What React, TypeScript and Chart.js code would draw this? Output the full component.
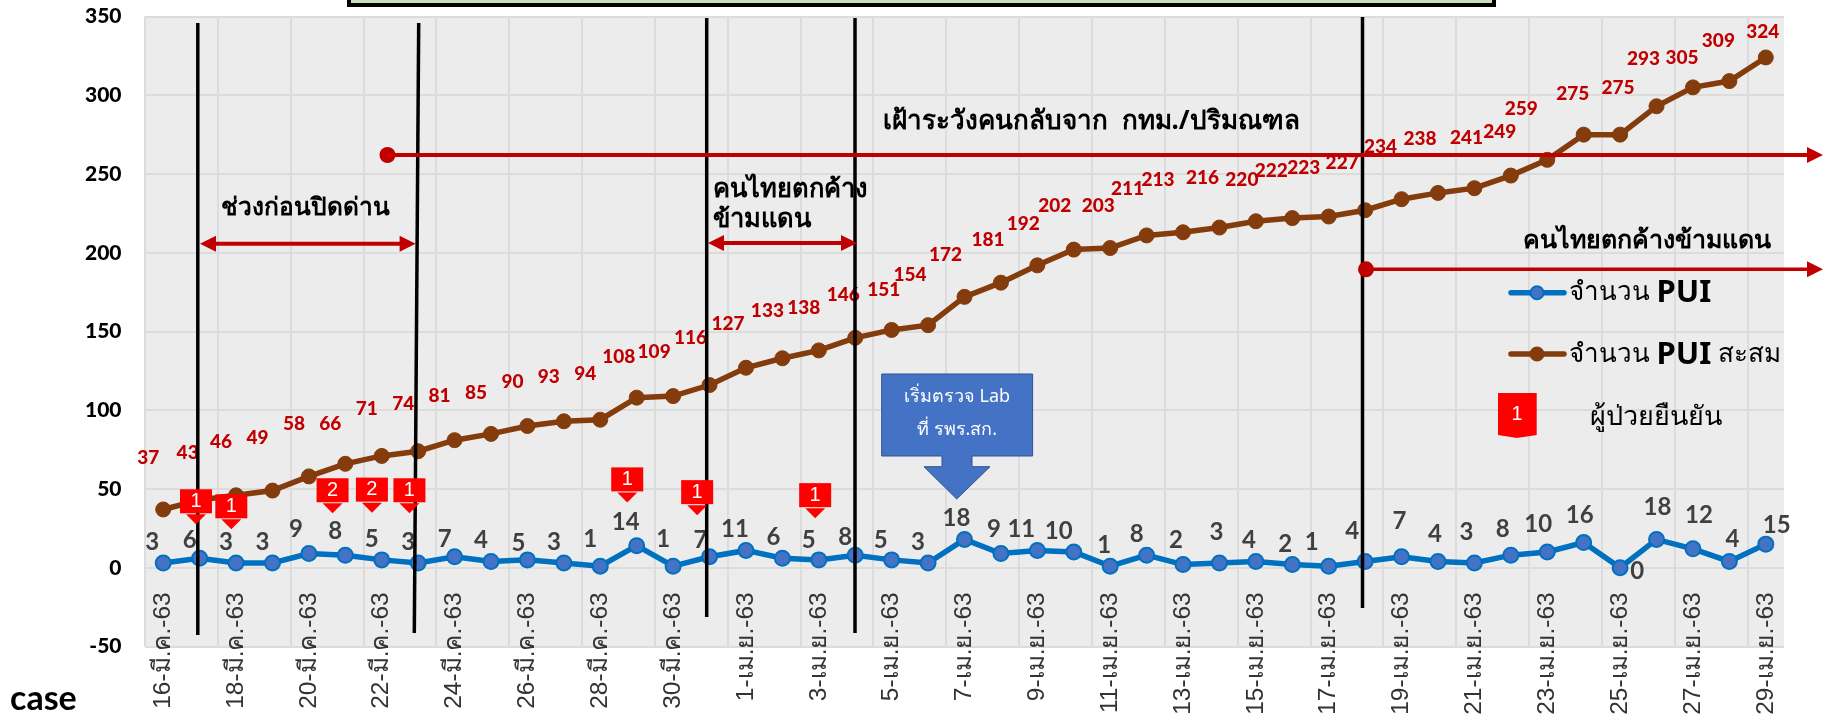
import React, { useEffect, useRef } from "react";
import { Chart, registerables } from "chart.js";

Chart.register(...registerables);

const monthMar = "มี.ค.";
const monthApr = "เม.ย.";
const marDays = [16,17,18,19,20,21,22,23,24,25,26,27,28,29,30,31];
const aprDays = [1,2,3,4,5,6,7,8,9,10,11,12,13,14,15,16,17,18,19,20,21,22,23,24,25,26,27,28,29];
const categories = [
  ...marDays.map((d) => `${d}-${monthMar}-63`),
  ...aprDays.map((d) => `${d}-${monthApr}-63`),
];
const puiDaily = [3,6,3,3,9,8,5,3,7,4,5,3,1,14,1,7,11,6,5,8,5,3,18,9,11,10,1,8,2,3,4,2,1,4,7,4,3,8,10,16,0,18,12,4,15];
const puiTotal = [37,43,46,49,58,66,71,74,81,85,90,93,94,108,109,116,127,133,138,146,151,154,172,181,192,202,203,211,213,216,220,222,223,227,234,238,241,249,259,275,275,293,305,309,324];

// hand-placed label offsets from each point (the original labels were moved by hand)
const totalLabelDx = [-15,-12,-15,-15,-15,-15,-15,-15,-15,-15,-15,-15,-15,-18,-19,-19,-18,-15,-15,-12,-8,-18,-19,-13,-14,-19,-12,-19,-25,-17,-14,-21,-25,-23,-21,-18,-8,-11,-26,-11,-2,-13,-11,-11,-3];
const totalLabelDy = [-52,-47,-53,-53,-53,-40,-47,-47,-44,-41,-44,-44,-46,-41,-44,-47,-44,-47,-43,-43,-40,-50,-42,-43,-41,-44,-42,-47,-52,-50,-41,-47,-49,-47,-52,-54,-50,-44,-51,-41,-47,-47,-30,-40,-26];
const dailyLabelDx = [-11,-10,-10,-10,-13,-10,-10,-10,-10,-10,-9,-10,-10,-11,-10,-9,-11,-9,-10,-10,-11,-10,-8,-7,-16,-15,-6,-10,-7,-3,-7,-7,-17,-13,-2,-3,-8,-8,-9,-4,17,1,6,3,11];
const dailyLabelDy = [-21,-18,-21,-21,-24,-24,-21,-21,-17,-21,-17,-21,-27,-23,-27,-16,-21,-21,-20,-18,-20,-21,-21,-24,-21,-21,-21,-21,-24,-31,-21,-20,-24,-30,-35,-27,-31,-26,-28,-27,4,-32,-34,-22,-19];

// confirmed-case flags: fractional category position, tip value, count
const flagPos = [0.9,1.87,4.65,5.73,6.76,12.74,14.66,17.9];
const flagTip = [27.6,24.4,34.6,35,34.6,41.5,33.4,31.5];
const flagCount = [1,1,2,2,1,1,1,1];

const seriesNames = ["จำนวน PUI", "จำนวน PUI สะสม"];
const NUM = "Lato, 'Noto Sans', sans-serif";
const THAI = "'Noto Sans', 'DejaVu Sans', sans-serif";
const RED = "#c00000";

function text(ctx: any, s: string, x: number, y: number, font: string, color: string, align: any = "left") {
  ctx.font = font;
  ctx.fillStyle = color;
  ctx.textAlign = align;
  ctx.textBaseline = "middle";
  ctx.fillText(s, x, y);
}
function head(ctx: any, x: number, y: number, dir: number, len: number, half: number) {
  ctx.beginPath();
  ctx.moveTo(x, y);
  ctx.lineTo(x - dir * len, y - half);
  ctx.lineTo(x - dir * len, y + half);
  ctx.closePath();
  ctx.fill();
}

const overlay = {
  id: "overlay",
  beforeDraw(chart: any) {
    const { ctx, chartArea: a } = chart;
    ctx.save();
    ctx.fillStyle = "#ffffff";
    ctx.fillRect(0, 0, chart.width, chart.height);
    ctx.fillStyle = "#ececec";
    ctx.fillRect(a.left, a.top, a.right - a.left, a.bottom - a.top);
    ctx.restore();
  },
  afterDatasetsDraw(chart: any) {
    const { ctx } = chart;
    const xs = chart.scales.x;
    const ys = chart.scales.y;
    ctx.save();

    // data labels
    ctx.lineWidth = 1;
    puiTotal.forEach((v, i) => {
      text(ctx, String(v), xs.getPixelForValue(i) + totalLabelDx[i], ys.getPixelForValue(v) + totalLabelDy[i], `900 19px ${NUM}`, RED, "center");
    });
    puiDaily.forEach((v, i) => {
      text(ctx, String(v), xs.getPixelForValue(i) + dailyLabelDx[i], ys.getPixelForValue(v) + dailyLabelDy[i], `bold 24px ${NUM}`, "#404040", "center");
    });

    // black separators
    ctx.strokeStyle = "#000";
    ctx.lineWidth = 3.5;
    const seps = [[197.8,23,197.8,635],[418.7,23,414.3,633],[706.7,18,706.7,617],[855,18,855,633],[1362.5,17,1362.5,608]];
    seps.forEach(([x1,y1,x2,y2]) => { ctx.beginPath(); ctx.moveTo(x1,y1); ctx.lineTo(x2,y2); ctx.stroke(); });

    // long red arrows
    ctx.strokeStyle = RED;
    ctx.fillStyle = RED;
    [[387.5,155,4],[1366,269.3,3.5]].forEach(([x,y,w]) => {
      ctx.lineWidth = w;
      ctx.beginPath(); ctx.moveTo(x,y); ctx.lineTo(1810,y); ctx.stroke();
      ctx.beginPath(); ctx.arc(x,y,8,0,Math.PI*2); ctx.fill();
      head(ctx,1823,y,1,16,8);
    });
    // double arrows
    ctx.lineWidth = 4;
    [[200,415.6,243.7],[708,857,243]].forEach(([x1,x2,y]) => {
      ctx.beginPath(); ctx.moveTo(x1+10,y); ctx.lineTo(x2-10,y); ctx.stroke();
      head(ctx,x1,y,-1,16,8);
      head(ctx,x2,y,1,16,8);
    });

    // annotation text
    text(ctx,"ช่วงก่อนปิดด่าน",221,208,`bold 24.5px ${THAI}`,"#000");
    text(ctx,"เฝ้าระวังคนกลับจาก  กทม./ปริมณฑล",883,122,`bold 26px ${THAI}`,"#000");
    text(ctx,"คนไทยตกค้าง",713,190,`bold 25.5px ${THAI}`,"#000");
    text(ctx,"ข้ามแดน",713,220,`bold 25.5px ${THAI}`,"#000");
    text(ctx,"คนไทยตกค้างข้ามแดน",1523,241,`bold 25px ${THAI}`,"#000");

    // flags
    flagPos.forEach((p,i) => {
      const cx = xs.getPixelForValue(p);
      const tip = ys.getPixelForValue(flagTip[i]);
      ctx.fillStyle = "#ff0000";
      ctx.fillRect(cx-16, tip-35, 32, 24);
      ctx.beginPath(); ctx.moveTo(cx-10,tip-10); ctx.lineTo(cx+10,tip-10); ctx.lineTo(cx,tip); ctx.closePath(); ctx.fill();
      text(ctx,String(flagCount[i]),cx,tip-23,"20px 'Liberation Sans'","#fff","center");
    });

    // callout
    ctx.fillStyle = "#4472c4";
    ctx.strokeStyle = "#2f528f";
    ctx.lineWidth = 1;
    ctx.beginPath();
    [[881.7,374],[1032.6,374],[1032.6,456],[972,456],[972,466.7],[990,466.7],[956.7,499],[924,466.7],[942,466.7],[942,456],[881.7,456]].forEach(([x,y],i) => i ? ctx.lineTo(x,y) : ctx.moveTo(x,y));
    ctx.closePath(); ctx.fill(); ctx.stroke();
    text(ctx,"เริ่มตรวจ Lab",957,397,`18px ${THAI}`,"#fff","center");
    text(ctx,"ที่ รพร.สก.",957,430,`18px ${THAI}`,"#fff","center");

    // legend
    const legend = [["#0070c0","#4472c4",292.7,293],["#843c0c","#843c0c",354,355]];
    legend.forEach(([line,fill,y,ty]: any,i) => {
      ctx.strokeStyle = line; ctx.lineWidth = 5.5; ctx.lineCap = "round";
      ctx.beginPath(); ctx.moveTo(1511,y); ctx.lineTo(1564,y); ctx.stroke();
      ctx.lineCap = "butt";
      ctx.fillStyle = fill; ctx.lineWidth = 2;
      ctx.beginPath(); ctx.arc(1537,y,6.5,0,Math.PI*2); ctx.fill(); ctx.stroke();
      const [a,b] = ["จำนวน ", "PUI"];
      text(ctx,a,1568.7,ty,`26px ${THAI}`,"#000");
      const w = ctx.measureText(a).width;
      text(ctx,b,1568.7+w,ty,`bold 31px ${THAI}`,"#000");
      if (i===1) { const w2 = ctx.measureText(b).width; text(ctx," สะสม",1568.7+w+w2,ty,`26px ${THAI}`,"#000"); }
    });
    ctx.fillStyle = "#ff0000";
    ctx.beginPath();
    [[1498,393],[1536.7,393],[1536.7,435],[1517,438],[1498,435]].forEach(([x,y],i) => i ? ctx.lineTo(x,y) : ctx.moveTo(x,y));
    ctx.closePath(); ctx.fill();
    text(ctx,"1",1517,414,"20px 'Liberation Sans'","#fff","center");
    text(ctx,"ผู้ป่วยยืนยัน",1590,417,`27px ${THAI}`,"#000");

    // banner cut by top edge, axis caption
    ctx.fillStyle = "#c5e0b4";
    ctx.strokeStyle = "#000";
    ctx.lineWidth = 4;
    ctx.fillRect(349,-4,1145,9);
    ctx.strokeRect(349,-4,1145,9);
    text(ctx,"case",10,699,`bold 34px ${NUM}`,"#000");
    ctx.restore();
  },
};

export default function App() {
  const ref = useRef<HTMLCanvasElement>(null);
  useEffect(() => {
    const chart = new Chart(ref.current as HTMLCanvasElement, {
      type: "line",
      data: {
        labels: categories,
        datasets: [
          { label: seriesNames[1], data: puiTotal, borderColor: "#843c0c", backgroundColor: "#843c0c", pointBackgroundColor: "#843c0c", pointBorderColor: "#843c0c", borderWidth: 5.5, pointRadius: 7.5, pointBorderWidth: 1, tension: 0 },
          { label: seriesNames[0], data: puiDaily, borderColor: "#0070c0", backgroundColor: "#4472c4", pointBackgroundColor: "#4472c4", pointBorderColor: "#0070c0", borderWidth: 5.5, pointRadius: 7.5, pointBorderWidth: 2, tension: 0 },
        ],
      },
      options: {
        animation: false,
        responsive: false,
        layout: { padding: { top: 16.5, right: 44, left: 0, bottom: 74.5 } },
        plugins: { legend: { display: false }, title: { display: false }, tooltip: { enabled: false } },
        scales: {
          x: {
            type: "category",
            position: { y: 0 },
            offset: true,
            afterFit: (s: any) => { s.height = 0; s.paddingLeft = 0; s.paddingRight = 0; s.paddingTop = 0; s.paddingBottom = 0; },
            border: { display: false },
            grid: { offset: true, drawTicks: false, lineWidth: 2, color: (c: any) => (c.index % 2 === 0 ? "#dcdcdc" : "rgba(0,0,0,0)") },
            ticks: {
              autoSkip: false, minRotation: 90, maxRotation: 90, padding: 24.6,
              color: "#333333",
              font: { family: "'Liberation Sans', 'Noto Sans', sans-serif", size: 24.5 },
              callback: (_v: any, i: number) => (i % 2 === 0 ? categories[i] : ""),
            },
          },
          y: {
            min: -50, max: 350,
            afterFit: (s: any) => { s.width = 145; s.paddingTop = 0; s.paddingBottom = 0; },
            border: { display: false },
            grid: { drawTicks: false, lineWidth: 2, color: "#dcdcdc" },
            ticks: { stepSize: 50, padding: 23.5, color: "#000", font: { family: NUM, size: 21, weight: "900" } },
          },
        },
      },
      plugins: [overlay],
    } as any);
    return () => chart.destroy();
  }, []);
  return <canvas ref={ref} width={1828} height={721} style={{ position: "fixed", left: 0, top: 0, display: "block" }} />;
}
